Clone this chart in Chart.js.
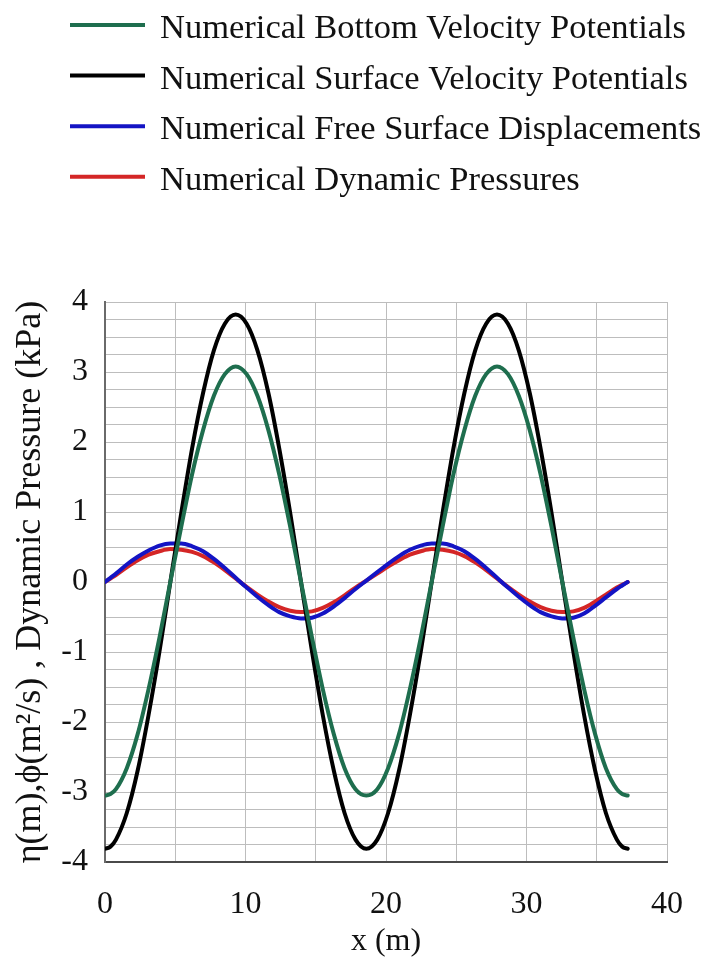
<!DOCTYPE html>
<html>
<head>
<meta charset="utf-8">
<script src="https://cdn.jsdelivr.net/npm/chart.js@4.4.1/dist/chart.umd.min.js"></script>
<style>
  html, body { margin: 0; padding: 0; background: #fff; }
  #wrap { width: 706px; height: 961px; position: relative; }
</style>
</head>
<body>
<div id="wrap"><canvas id="waveChart"></canvas></div>
<script>
const SERIF = "'Liberation Serif', 'Times New Roman', serif";
const INK = '#111111';
const GRID = '#bdbdbd';
const NONE = 'rgba(0,0,0,0)';

// sample positions along the tank (m)
const xPos = [0, 0.39, 0.78, 1.55, 2.33, 3.1, 3.88, 4.65, 5.43, 6.2, 6.98, 7.75, 8.53, 9.3,
  10.08, 10.85, 11.63, 12.4, 13.18, 13.95, 14.73, 15.5, 16.28, 17.05, 17.83, 18.6,
  19.38, 20.15, 20.93, 21.7, 22.48, 23.25, 24.03, 24.8, 25.58, 26.35, 27.13, 27.9,
  28.68, 29.45, 30.23, 31.0, 31.78, 32.55, 33.33, 34.1, 34.88, 35.65, 36.43, 36.81, 37.2];

const bottomPhi = [-3.05, -3.03, -2.96, -2.66, -2.17, -1.53, -0.79, 0.00, 0.79, 1.54, 2.17, 2.66, 2.97, 3.08,
  2.97, 2.66, 2.17, 1.54, 0.79, 0.00, -0.79, -1.53, -2.17, -2.66, -2.96, -3.05,
  -2.96, -2.66, -2.17, -1.53, -0.79, 0.00, 0.79, 1.54, 2.17, 2.66, 2.97, 3.08,
  2.97, 2.66, 2.17, 1.54, 0.79, 0.00, -0.79, -1.53, -2.17, -2.66, -2.96, -3.03, -3.05];

const surfacePhi = [-3.81, -3.78, -3.68, -3.30, -2.69, -1.90, -0.99, 0.00, 0.99, 1.91, 2.70, 3.31, 3.69, 3.82,
  3.69, 3.31, 2.70, 1.91, 0.99, 0.00, -0.99, -1.90, -2.69, -3.30, -3.68, -3.81,
  -3.68, -3.30, -2.69, -1.90, -0.99, 0.00, 0.99, 1.91, 2.70, 3.31, 3.69, 3.82,
  3.69, 3.31, 2.70, 1.91, 0.99, 0.00, -0.99, -1.90, -2.69, -3.30, -3.68, -3.78, -3.81];

const surfaceEta = [0.00, 0.06, 0.12, 0.25, 0.36, 0.45, 0.52, 0.55, 0.55, 0.51, 0.44, 0.33, 0.20, 0.06,
  -0.08, -0.21, -0.33, -0.43, -0.49, -0.52, -0.51, -0.45, -0.35, -0.23, -0.10, 0.02,
  0.14, 0.26, 0.37, 0.46, 0.52, 0.55, 0.55, 0.51, 0.44, 0.33, 0.20, 0.06,
  -0.08, -0.21, -0.33, -0.43, -0.49, -0.52, -0.51, -0.45, -0.34, -0.22, -0.10, -0.05, 0.00];

const dynPressure = [0.00, 0.05, 0.10, 0.21, 0.31, 0.39, 0.44, 0.47, 0.46, 0.43, 0.37, 0.28, 0.17, 0.05,
  -0.07, -0.18, -0.28, -0.36, -0.41, -0.43, -0.42, -0.37, -0.29, -0.19, -0.08, 0.02,
  0.12, 0.22, 0.31, 0.39, 0.44, 0.47, 0.46, 0.43, 0.37, 0.28, 0.17, 0.05,
  -0.07, -0.18, -0.28, -0.36, -0.41, -0.43, -0.42, -0.37, -0.28, -0.18, -0.08, -0.04, 0.00];

const seriesNames = [
  'Numerical Bottom Velocity Potentials',
  'Numerical Surface Velocity Potentials',
  'Numerical Free Surface Displacements',
  'Numerical Dynamic Pressures'
];
const seriesColors = ['#1e6e4e', '#000000', '#1414c4', '#d42626'];
const seriesValues = [bottomPhi, surfacePhi, surfaceEta, dynPressure];

const xTickLabels = [0, 10, 20, 30, 40];
const yTickLabels = [-4, -3, -2, -1, 0, 1, 2, 3, 4];

// legend stacked in rows above the plot, short line + label
const rowLegend = {
  id: 'rowLegend',
  afterDraw(chart) {
    const { ctx } = chart;
    ctx.save();
    ctx.font = `34.5px ${SERIF}`;
    ctx.textAlign = 'left';
    ctx.textBaseline = 'alphabetic';
    chart.data.datasets.forEach((ds, i) => {
      const y = 25 + i * 50.6;
      ctx.strokeStyle = ds.borderColor;
      ctx.lineWidth = 4;
      ctx.beginPath();
      ctx.moveTo(70, y);
      ctx.lineTo(145, y);
      ctx.stroke();
      ctx.fillStyle = INK;
      ctx.fillText(ds.label, 160, y + 13);
    });
    ctx.restore();
  }
};

new Chart(document.getElementById('waveChart'), {
  type: 'line',
  data: {
    datasets: seriesValues.map((vals, i) => ({
      label: seriesNames[i],
      data: xPos.map((x, j) => ({ x, y: vals[j] })),
      borderColor: seriesColors[i],
      borderWidth: 4,
      pointRadius: 0,
      cubicInterpolationMode: 'monotone',
      fill: false,
      borderCapStyle: 'round',
      borderJoinStyle: 'round'
    }))
  },
  options: {
    responsive: true,
    maintainAspectRatio: false,
    animation: false,
    layout: { padding: { top: 302, right: 39, left: 0, bottom: 0 } },
    plugins: {
      legend: { display: false },
      tooltip: { enabled: false }
    },
    scales: {
      x: {
        type: 'linear',
        min: 0,
        max: 40,
        ticks: {
          stepSize: 5,
          autoSkip: false,
          maxRotation: 0,
          padding: 23,
          color: INK,
          font: { family: SERIF, size: 32 },
          callback: v => xTickLabels.includes(v) ? String(v) : ''
        },
        grid: {
          color: c => (c.tick && c.tick.value === 0) ? NONE : GRID,
          lineWidth: 1,
          drawTicks: false
        },
        border: { color: '#4a4a4a', width: 2 },
        title: {
          display: true,
          text: 'x (m)',
          color: INK,
          font: { family: SERIF, size: 32 },
          padding: { top: 0, bottom: 0 }
        },
        afterFit: s => { s.height = 99; }
      },
      y: {
        type: 'linear',
        min: -4,
        max: 4,
        ticks: {
          stepSize: 0.25,
          autoSkip: false,
          padding: 17,
          color: INK,
          font: { family: SERIF, size: 32 },
          callback: v => yTickLabels.includes(v) ? String(v) : ''
        },
        grid: {
          color: c => (c.tick && c.tick.value === -4) ? NONE : GRID,
          lineWidth: 1,
          drawTicks: false
        },
        border: { color: '#6a6a6a', width: 2 },
        title: {
          display: true,
          text: 'η(m),ϕ(m²/s) , Dynamic Pressure (kPa)',
          color: INK,
          font: { family: SERIF, size: 36 },
          padding: { top: 9, bottom: 0 }
        },
        afterFit: s => { s.width = 105; }
      }
    }
  },
  plugins: [rowLegend]
});
</script>
</body>
</html>
